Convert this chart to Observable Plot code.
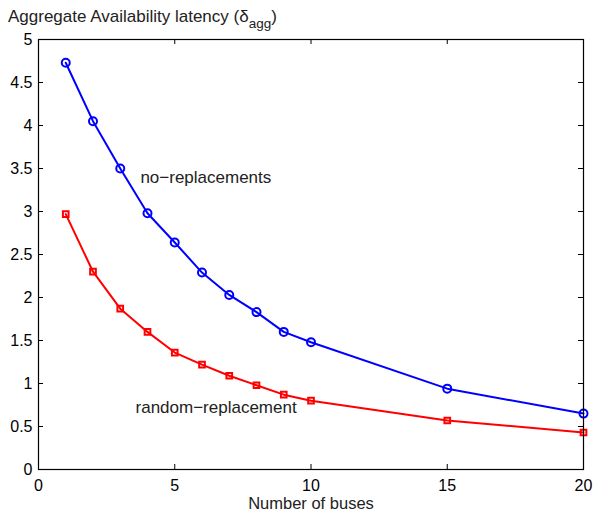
<!DOCTYPE html>
<html><head><meta charset="utf-8">
<script src="https://cdn.jsdelivr.net/npm/d3@7"></script>
<script src="https://cdn.jsdelivr.net/npm/@observablehq/plot@0.6"></script>
<style>body{margin:0;background:#fff}</style>
</head><body><div id="chart"></div>
<script>
const buses = [1,2,3,4,5,6,7,8,9,10,15,20];
const noReplacements = [4.73,4.05,3.50,2.98,2.64,2.29,2.03,1.83,1.60,1.48,0.94,0.65];
const randomReplacement = [2.97,2.30,1.87,1.60,1.36,1.22,1.09,0.98,0.87,0.80,0.57,0.43];
const xTicks = [0,5,10,15,20];
const yTicks = [0,0.5,1,1.5,2,2.5,3,3.5,4,4.5,5];
const labels = [{x:3.74,y:3.40,text:"no\u2212replacements"},{x:3.56,y:0.72,text:"random\u2212replacement"}];

const blue = buses.map((b,i)=>({x:b,y:noReplacements[i]}));
const red = buses.map((b,i)=>({x:b,y:randomReplacement[i]}));
const W=608,H=515,mL=38,mR=25,mT=39,mB=46;
const tx = 5*20/(W-mL-mR), ty = 5*5/(H-mT-mB);
const font = "Liberation Sans, Arial, Helvetica, sans-serif";
const plot = Plot.plot({
  width:W,height:H,marginLeft:mL,marginRight:mR,marginTop:mT,marginBottom:mB,
  style:{fontFamily:font,fontSize:"16px",color:"#000",background:"#fff"},
  x:{domain:[0,20]},
  y:{domain:[0,5]},
  marks:[
    Plot.ruleX(xTicks,{x:d=>d,y1:0,y2:ty,stroke:"#000"}),
    Plot.ruleX(xTicks,{x:d=>d,y1:5-ty,y2:5,stroke:"#000"}),
    Plot.ruleY(yTicks,{y:d=>d,x1:0,x2:tx,stroke:"#000"}),
    Plot.ruleY(yTicks,{y:d=>d,x1:20-tx,x2:20,stroke:"#000"}),
    Plot.axisX({ticks:xTicks,tickSize:0,tickPadding:10,fontSize:16,label:null,tickFormat:d=>String(d)}),
    Plot.text(["Number of buses"],{frameAnchor:"bottom",dy:39,fontSize:16.5,fill:"#222"}),
    Plot.axisY({ticks:yTicks,tickSize:0,tickPadding:6,fontSize:16,label:null,tickFormat:d=>String(d)}),
    Plot.line(blue,{x:"x",y:"y",stroke:"#0000ff",strokeWidth:2}),
    Plot.dot(blue,{x:"x",y:"y",stroke:"#0000ff",strokeWidth:2,r:4,fill:"none"}),
    Plot.line(red,{x:"x",y:"y",stroke:"#ff0000",strokeWidth:2}),
    Plot.dot(red,{x:"x",y:"y",stroke:"#ff0000",strokeWidth:2,r:3.2,symbol:"square",fill:"none"}),
    Plot.text(labels,{x:"x",y:"y",text:"text",textAnchor:"start",fontSize:17,fill:"#222"}),
    Plot.frame({stroke:"#000",strokeWidth:1.2})
  ]
});
const svg = d3.select(plot);
const t = svg.append("text").attr("x",8).attr("y",22).attr("text-anchor","start")
  .attr("font-family",font).attr("font-size",17).attr("fill","#222");
t.append("tspan").text("Aggregate Availability latency (\u03b4");
t.append("tspan").attr("dy",6).attr("font-size",13.5).text("agg");
t.append("tspan").attr("dy",-6).text(")");
document.getElementById("chart").append(plot);
</script></body></html>
